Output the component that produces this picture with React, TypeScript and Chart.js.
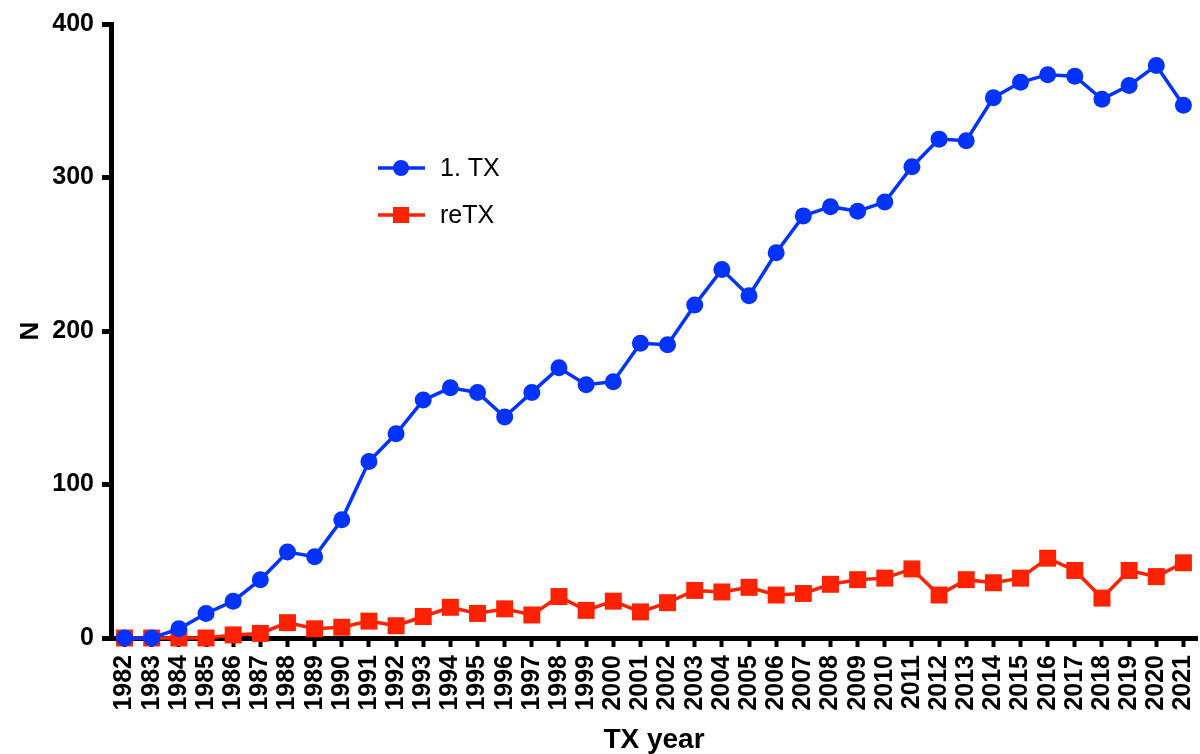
import React, { useEffect, useRef } from "react";
import { Chart, registerables } from "chart.js";

Chart.register(...registerables);

const years: string[] = [
  "1982","1983","1984","1985","1986","1987","1988","1989","1990","1991",
  "1992","1993","1994","1995","1996","1997","1998","1999","2000","2001",
  "2002","2003","2004","2005","2006","2007","2008","2009","2010","2011",
  "2012","2013","2014","2015","2016","2017","2018","2019","2020","2021",
];

const firstTx: number[] = [
  0, 0, 6, 16, 24, 38, 56, 53, 77, 115,
  133, 155, 163, 160, 144, 160, 176, 165, 167, 192,
  191, 217, 240, 223, 251, 275, 281, 278, 284, 307,
  325, 324, 352, 362, 367, 366, 351, 360, 373, 347,
];

const reTx: number[] = [
  0, 0, 0, 0, 2, 3, 10, 6, 7, 11,
  8, 14, 20, 16, 19, 15, 27, 18, 24, 17,
  23, 31, 30, 33, 28, 29, 35, 38, 39, 45,
  28, 38, 36, 39, 52, 44, 26, 44, 40, 49,
];

const seriesNames: string[] = ["1. TX", "reTX"];
const yTicks: number[] = [0, 100, 200, 300, 400];

const BLUE = "#0033ff";
const RED = "#ff2200";
const FONT = "Arial, 'Liberation Sans', sans-serif";

const legendPlugin = {
  id: "insideLegend",
  afterDraw(chart: any) {
    const ctx = chart.ctx;
    const items = [
      { label: seriesNames[0], color: BLUE, style: "circle", y: 168 },
      { label: seriesNames[1], color: RED, style: "rect", y: 215 },
    ];
    ctx.save();
    for (const it of items) {
      ctx.strokeStyle = it.color;
      ctx.lineWidth = 3.5;
      ctx.beginPath();
      ctx.moveTo(378, it.y);
      ctx.lineTo(425, it.y);
      ctx.stroke();
      ctx.fillStyle = it.color;
      if (it.style === "circle") {
        ctx.beginPath();
        ctx.arc(401, it.y, 8, 0, Math.PI * 2);
        ctx.fill();
      } else {
        ctx.fillRect(393, it.y - 8, 16, 16);
      }
      ctx.fillStyle = "#000";
      ctx.font = `25px ${FONT}`;
      ctx.textBaseline = "middle";
      ctx.textAlign = "left";
      ctx.fillText(it.label, 440, it.y + 1);
    }
    ctx.restore();
  },
};

export default function App() {
  const ref = useRef<HTMLCanvasElement | null>(null);

  useEffect(() => {
    document.body.style.margin = "0";
    const canvas = ref.current;
    if (!canvas) return;
    const chart = new Chart(canvas, {
      type: "line",
      data: {
        labels: years,
        datasets: [
          {
            label: seriesNames[0],
            data: firstTx,
            borderColor: BLUE,
            backgroundColor: BLUE,
            borderWidth: 3.5,
            pointStyle: "circle",
            pointRadius: 8.5,
            pointBorderWidth: 0,
            pointBackgroundColor: BLUE,
            clip: false as any,
            tension: 0,
          },
          {
            label: seriesNames[1],
            data: reTx,
            borderColor: RED,
            backgroundColor: RED,
            borderWidth: 3.5,
            pointStyle: "rect",
            pointRadius: 12,
            pointBorderWidth: 0,
            pointBackgroundColor: RED,
            clip: false as any,
            tension: 0,
          },
        ],
      },
      options: {
        responsive: false,
        animation: false,
        layout: { autoPadding: false, padding: { top: 24, right: 3, left: 0, bottom: 0 } },
        plugins: {
          legend: { display: false },
          tooltip: { enabled: false },
        },
        scales: {
          x: {
            type: "category",
            offset: true,
            grid: {
              display: true,
              drawOnChartArea: false,
              drawTicks: true,
              tickLength: 9,
              tickWidth: 4,
              color: "#000",
              offset: false,
            },
            border: { display: true, color: "#000", width: 5 },
            ticks: {
              color: "#000",
              font: { family: FONT, size: 25, weight: "bold" },
              minRotation: 90,
              maxRotation: 90,
              autoSkip: false,
              padding: 8,
            },
            title: {
              display: true,
              text: "TX year",
              color: "#000",
              font: { family: FONT, size: 28, weight: "bold", lineHeight: 1 },
              padding: { top: 0, bottom: 0 },
            },
            afterFit(scale: any) {
              scale.height = 116;
              scale.paddingLeft = 0;
              scale.paddingRight = 0;
            },
          },
          y: {
            min: 0,
            max: 400,
            afterBuildTicks(scale: any) {
              scale.ticks = yTicks.map((v) => ({ value: v }));
            },
            grid: {
              display: true,
              drawOnChartArea: false,
              drawTicks: true,
              tickLength: 9,
              tickWidth: 5,
              color: "#000",
            },
            border: { display: true, color: "#000", width: 5 },
            ticks: {
              color: "#000",
              font: { family: FONT, size: 25, weight: "bold" },
              padding: 8,
            },
            title: {
              display: true,
              text: "N",
              color: "#000",
              font: { family: FONT, size: 26, weight: "bold" },
              padding: { top: 15, bottom: 0 },
            },
            afterFit(scale: any) {
              scale.width = 111;
              scale.paddingTop = 0;
              scale.paddingBottom = 0;
            },
          },
        },
      },
      plugins: [legendPlugin],
    });
    return () => chart.destroy();
  }, []);

  return (
    <div style={{ position: "absolute", left: 0, top: 0, width: 1200, height: 754 }}>
      <canvas ref={ref} width={1200} height={754} style={{ width: 1200, height: 754 }} />
    </div>
  );
}
